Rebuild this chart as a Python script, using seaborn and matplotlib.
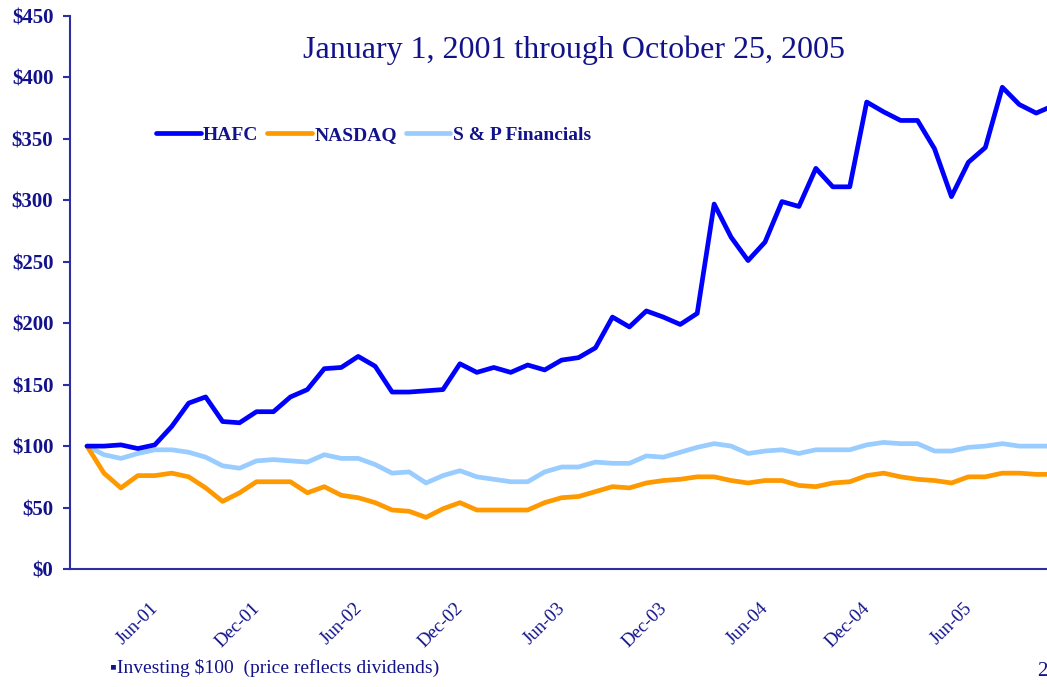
import matplotlib
matplotlib.use("Agg")
import matplotlib.pyplot as plt
from matplotlib.lines import Line2D
import numpy as np
import pandas as pd
import seaborn as sns

# ---------------- data (monthly, Jan 2001 -> Oct 2005) ----------------
months = list(range(58))
hafc = [100, 100, 101, 98, 101, 116, 135, 140, 120, 119,
        128, 128, 140, 146, 163, 164, 173, 165, 144, 144,
        145, 146, 167, 160, 164, 160, 166, 162, 170, 172,
        180, 205, 197, 210, 205, 199, 208, 297, 270, 251,
        266, 299, 295, 326, 311, 311, 380, 372, 365, 365,
        342, 303, 331, 343, 392, 378, 371, 377]
nasdaq = [100, 78, 66, 76, 76, 78, 75, 66, 55, 62,
          71, 71, 71, 62, 67, 60, 58, 54, 48, 47,
          42, 49, 54, 48, 48, 48, 48, 54, 58, 59,
          63, 67, 66, 70, 72, 73, 75, 75, 72, 70,
          72, 72, 68, 67, 70, 71, 76, 78, 75, 73,
          72, 70, 75, 75, 78, 78, 77, 77]
sp_fin = [100, 93, 90, 94, 97, 97, 95, 91, 84, 82,
          88, 89, 88, 87, 93, 90, 90, 85, 78, 79,
          70, 76, 80, 75, 73, 71, 71, 79, 83, 83,
          87, 86, 86, 92, 91, 95, 99, 102, 100, 94,
          96, 97, 94, 97, 97, 97, 101, 103, 102, 102,
          96, 96, 99, 100, 102, 100, 100, 100]

series_names = ["HAFC", "NASDAQ", "S & P Financials"]
series_colors = ["#0000FF", "#FF9900", "#99CCFF"]
tick_labels = ["Jun-01", "Dec-01", "Jun-02", "Dec-02", "Jun-03",
               "Dec-03", "Jun-04", "Dec-04", "Jun-05"]
y_ticks = [0, 50, 100, 150, 200, 250, 300, 350, 400, 450]

title_text = "January 1, 2001 through October 25, 2005"
footnote_text = "\u25aaInvesting $100  (price reflects dividends)"
page_text = "2"

# ---------------- style ----------------
sns.set_theme(style="white")
plt.rcParams["font.family"] = ["Liberation Serif", "DejaVu Serif"]
navy = "#12128A"
spine_col = "#2E2EA3"

W, H = 1047, 687
fig = plt.figure(figsize=(W / 100, H / 100), dpi=100)
ax_left, ax_right, ax_top, ax_bot = 70, 1075, 16, 569
ax = fig.add_axes([ax_left / W, 1 - ax_bot / H,
                   (ax_right - ax_left) / W, (ax_bot - ax_top) / H])

df = pd.concat([
    pd.DataFrame({"month": months, "value": vals, "series": name})
    for name, vals in zip(series_names, [hafc, nasdaq, sp_fin])
])
palette = dict(zip(series_names, series_colors))
sns.lineplot(data=df, x="month", y="value", hue="series",
             hue_order=series_names[::-1], palette=palette,
             linewidth=3.4, ax=ax, legend=False)

px_per_month = 16.95
x0_px = 87
ax.set_xlim(-(x0_px - ax_left) / px_per_month,
            (ax_right - x0_px) / px_per_month)
ax.set_ylim(0, 450)

ax.set_yticks(y_ticks)
ax.set_yticklabels([f"${v}" for v in y_ticks], fontsize=15,
                   fontweight="bold", color=navy)
ax.tick_params(axis="y", length=5, width=1.5, color=spine_col, pad=7,
               left=True)

first_tick = 3.7
ax.set_xticks([first_tick + 6 * i for i in range(len(tick_labels))])
ax.set_xticklabels(tick_labels, rotation=45, ha="right", va="top",
                   rotation_mode="anchor", fontsize=13.5, color=navy)
ax.tick_params(axis="x", length=0, pad=22)

ax.set_xlabel("")
ax.set_ylabel("")
ax.grid(False)
for s in ["top", "right"]:
    ax.spines[s].set_visible(False)
for s in ["left", "bottom"]:
    ax.spines[s].set_color(spine_col)
    ax.spines[s].set_linewidth(1.5)

# legend
handles = [Line2D([0], [0], color=c, lw=3.4) for c in series_colors]
leg = fig.legend(handles, series_names, ncol=3, frameon=False,
                 loc="center left", bbox_to_anchor=(156 / W, 1 - 135 / H),
                 prop={"family": "Liberation Serif", "weight": "bold",
                       "size": 14},
                 handlelength=2.3, handletextpad=0.12, columnspacing=0.45,
                 borderpad=0, borderaxespad=0)
for t in leg.get_texts():
    t.set_color(navy)

fig.text(574 / W, 1 - 50 / H, title_text, ha="center", va="center",
         fontsize=23, color=navy)
fig.text(110 / W, 1 - 668 / H, footnote_text, ha="left", va="center",
         fontsize=14, color=navy)
fig.text(1037 / W, 1 - 672 / H, page_text, ha="left", va="center",
         fontsize=15, color=navy)

fig.savefig("out.png", dpi=100, facecolor="white")
